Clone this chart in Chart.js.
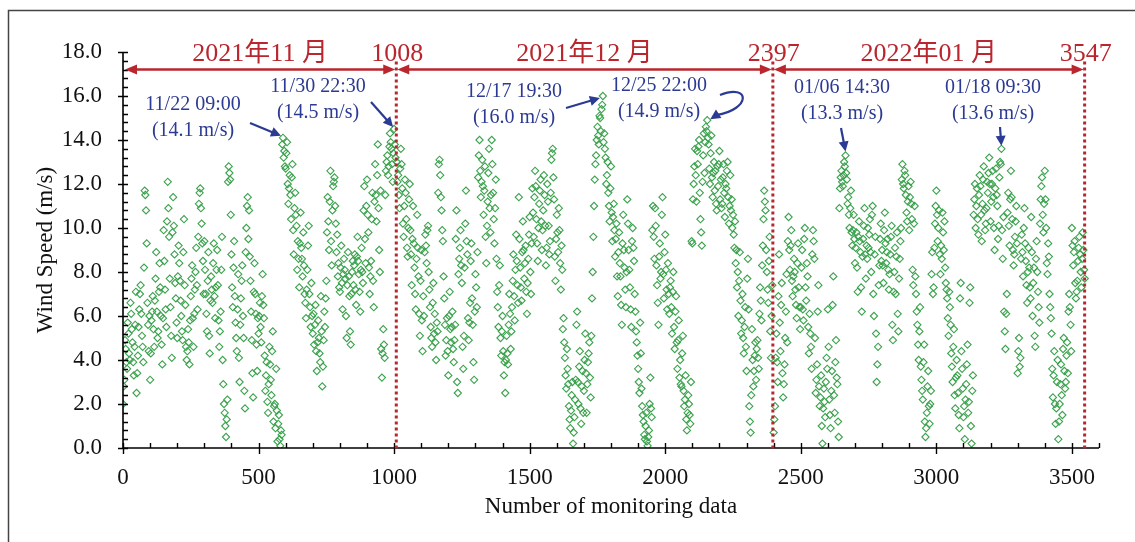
<!DOCTYPE html>
<html>
<head>
<meta charset="utf-8">
<script src="https://cdn.jsdelivr.net/npm/chart.js@4/dist/chart.umd.min.js"></script>
<style>
  html, body { margin: 0; padding: 0; background: #fff; }
  #wrap { position: relative; width: 1135px; height: 542px; }
</style>
</head>
<body>
<div id="wrap"><canvas id="windChart"></canvas></div>
<script>
// wind speed (m/s), one value every 2.5 monitoring records
const recordStep = 2.5;
const novStart = 0, decStart = 1010, janStart = 2400;

const novSpeed = [
  2.0, 2.8, 3.1, 4.9, 4.5, 3.9, 3.6, 5.7, 5.2, 4.3, 4.0, 6.6, 6.1, 5.4, 4.8, 3.9, 3.3, 4.6, 5.6, 7.1,
  2.5, 3.4, 4.2, 5.5, 6.3, 7.0, 7.4, 6.1, 5.1, 4.6, 3.9, 8.2, 11.7, 11.5, 10.8, 9.3, 6.6, 5.6, 4.4, 6.0,
  3.1, 4.3, 5.8, 6.2, 6.9, 5.4, 4.6, 6.7, 7.7, 8.9, 6.2, 5.0, 5.3, 7.1, 8.4, 7.3, 6.0, 4.7, 3.8, 5.9,
  9.9, 8.5, 7.2, 6.3, 5.5, 10.3, 12.1, 10.9, 9.6, 7.7, 6.4, 5.1, 4.1, 9.8, 11.4, 10.1, 8.8, 7.5, 6.8, 5.7,
  5.0, 7.8, 9.2, 8.4, 7.6, 6.7, 6.0, 5.3, 4.9, 8.9, 10.4, 7.4, 6.5, 4.6, 4.0, 4.4, 5.4, 4.8, 3.8, 5.8,
  6.9, 7.7, 8.3, 5.9, 4.6, 6.1, 7.2, 8.0, 9.1, 7.4, 6.3, 9.6, 11.1, 11.6, 11.8, 10.9, 10.2, 9.3, 8.5, 7.0,
  9.4, 8.1, 7.0, 6.1, 5.3, 7.6, 8.9, 5.1, 4.3, 6.7, 7.8, 7.2, 6.6, 8.4, 9.3, 6.9, 5.9, 7.3, 8.1, 9.0,
  7.4, 5.8, 4.6, 5.3, 6.2, 8.1, 9.6, 4.0, 2.9, 2.0, 1.6, 1.0, 0.5, 1.3, 2.2, 12.1, 12.8, 12.5, 12.2, 10.6,
  8.8, 7.3, 6.4, 8.2, 9.4, 6.9, 5.7, 5.0, 4.4, 6.3, 7.9, 4.1, 3.0, 5.6, 6.8, 7.6, 8.3, 6.0, 5.0, 2.6,
  1.8, 8.9, 10.0, 11.0, 11.4, 9.5, 10.8, 8.7, 7.6, 6.2, 4.9, 3.4, 2.3, 7.1, 8.4, 7.0, 6.1, 4.7, 3.5, 5.9,
  5.2, 6.0, 6.6, 5.5, 4.8, 6.9, 7.9, 6.5, 5.9, 4.2, 2.6, 3.3, 3.9, 2.1, 1.6, 2.9, 4.6, 3.8, 3.1, 2.4,
  4.4, 5.3, 1.2, 1.9, 2.0, 0.9, 3.6, 1.7, 0.3, 1.1, 1.5, 0.4, 0.1, 0.8, 0.6, 13.8, 14.1, 13.2, 13.5, 12.8,
  12.7, 13.4, 13.9, 12.0, 11.1, 11.8, 12.4, 11.5, 10.4, 12.3, 12.9, 9.9, 8.8, 10.9, 11.6, 10.6, 10.1, 8.1, 9.4, 8.6,
  7.3, 9.3, 10.7, 9.1, 8.6, 7.8, 9.8, 8.3, 7.0, 6.6, 5.9, 7.2, 8.1, 9.2, 10.1, 7.0, 6.4, 5.5, 7.5, 6.0,
  5.2, 6.1, 4.7, 5.6, 6.5, 4.4, 3.5, 4.8, 5.8, 5.0, 4.3, 3.9, 6.9, 5.3, 2.8, 3.7, 4.9, 6.2, 5.5, 6.8,
  7.6, 9.8, 11.4, 10.3, 9.0, 11.2, 12.6, 9.4, 8.3, 10.8, 11.9, 12.1, 12.3, 11.0, 10.2, 8.9, 9.7, 7.8, 8.4, 7.3,
  7.1, 8.2, 9.2, 7.5, 6.3, 7.9, 8.6, 8.1, 7.7, 6.0, 5.0, 7.4, 8.9, 7.8, 6.9, 5.3, 4.7, 7.0, 8.0, 8.5,
  7.4, 8.3, 8.8, 7.2, 6.5, 8.7, 9.6, 8.5, 7.9, 7.1, 6.2, 8.1, 9.1, 8.0, 7.5, 10.8, 11.9, 9.5, 8.4, 11.0,
  12.2, 10.6, 9.8, 8.2, 7.0, 7.8, 8.5, 10.4, 11.6, 7.6, 6.4, 11.2, 12.9, 11.5, 10.3, 12.4, 13.8, 10.9, 9.0, 8.0,
  11.7, 4.5, 3.2, 4.3, 5.4, 4.7, 4.1, 11.5, 12.6, 13.0, 13.3, 12.4, 12.8, 13.7, 14.3, 13.9, 13.6, 12.9, 12.1, 13.4,
  14.5, 13.8, 13.2
];

const decSpeed = [
  13.0, 12.1, 12.4, 11.5, 10.9, 12.7, 13.6, 12.9, 11.8, 10.2, 9.6, 11.0, 12.2, 11.6, 10.4, 9.1, 8.7, 10.0, 11.3, 12.0,
  9.9, 8.8, 7.4, 9.5, 11.0, 9.3, 8.2, 7.0, 6.3, 8.6, 10.6, 9.1, 7.8, 6.1, 5.1, 7.6, 9.0, 5.8, 4.4, 6.9,
  6.0, 8.9, 9.7, 9.2, 8.4, 9.9, 10.1, 8.0, 7.2, 6.4, 5.5, 5.0, 4.6, 6.6, 7.5, 5.2, 6.1, 4.8, 4.0, 5.7,
  5.3, 11.6, 12.9, 13.1, 12.4, 11.4, 10.8, 9.9, 9.4, 7.8, 6.8, 5.6, 4.2, 4.9, 5.9, 4.4, 3.3, 6.0, 7.1, 5.4,
  4.8, 5.5, 6.2, 4.5, 3.9, 4.9, 5.6, 9.5, 10.8, 3.0, 2.5, 7.9, 8.6, 9.1, 9.9, 8.3, 7.5, 4.6, 3.6, 5.1,
  8.2, 10.2, 11.7, 9.4, 8.8, 5.9, 4.9, 5.7, 6.6, 8.5, 9.3, 6.8, 5.6, 3.9, 3.1, 6.2, 7.9, 7.3, 6.4, 8.9,
  12.3, 13.3, 14.0, 12.6, 11.4, 12.1, 13.1, 11.9, 10.6, 11.7, 12.8, 9.6, 8.4, 10.1, 11.2, 12.5, 13.6, 10.9, 9.8, 11.5,
  14.0, 12.9, 11.6, 10.4, 9.3, 10.9, 12.2, 8.6, 7.1, 6.4, 5.5, 7.4, 8.3, 5.0, 4.2, 5.3, 6.0, 4.4, 3.3, 3.9,
  2.5, 4.0, 5.1, 4.3, 3.8, 5.6, 7.0, 6.1, 4.5, 5.3, 6.4, 7.6, 8.8, 6.9, 5.8, 8.1, 9.7, 8.5, 7.4, 6.6,
  11.4, 9.5, 8.2, 7.3, 6.7, 8.9, 10.3, 9.0, 7.7, 8.4, 9.2, 7.1, 6.1, 7.5, 8.6, 9.7, 10.5, 8.0, 7.0, 9.3,
  11.8, 10.7, 9.6, 11.4, 12.6, 11.9, 10.4, 9.3, 8.5, 10.0, 11.1, 11.7, 12.2, 10.3, 9.0, 9.9, 10.8, 12.4, 11.5, 10.1,
  8.3, 9.1, 12.0, 11.2, 10.1, 8.8, 9.4, 11.6, 13.1, 13.4, 13.6, 12.3, 11.3, 8.7, 7.6, 9.5, 10.6, 9.8, 8.9, 10.9,
  9.9, 8.4, 7.2, 9.2, 8.1, 5.4, 5.9, 4.8, 4.1, 3.3, 2.7, 4.5, 3.6, 2.9, 1.9, 1.3, 0.9, 1.7, 2.4, 3.0,
  0.2, 0.7, 1.4, 2.2, 3.1, 5.6, 6.2, 3.0, 2.0, 3.7, 4.4, 1.8, 1.1, 2.8, 3.5, 1.6, 2.6, 4.0, 5.2, 3.4,
  1.6, 2.9, 3.9, 4.3, 4.8, 3.2, 2.3, 5.1, 6.8, 8.0, 9.6, 11.0, 12.2, 12.9, 13.3, 14.0, 14.6, 14.2, 13.8, 15.1,
  15.0, 14.4, 15.4, 15.6, 16.0, 13.9, 14.3, 13.6, 13.2, 12.0, 12.4, 13.0, 11.6, 11.0, 10.3, 11.8, 12.8, 10.7, 9.4, 10.5,
  11.1, 9.9, 8.7, 9.5, 10.2, 7.8, 6.9, 8.9, 9.8, 8.4, 7.8, 6.5, 5.6, 9.3, 10.6, 9.0, 8.2, 7.2, 6.4, 8.0,
  11.3, 10.2, 9.0, 8.1, 7.3, 6.3, 5.5, 9.4, 10.0, 9.1, 8.5, 7.0, 6.2, 5.3, 4.8, 4.2, 3.6, 3.0, 2.5, 5.7,
  4.3, 2.7, 1.9, 1.5, 1.2, 0.6, 0.4, 1.0, 1.6, 0.3, 0.1, 0.5, 0.8, 2.0, 3.2, 1.8, 1.4, 9.9, 11.0, 9.6,
  8.6, 10.9, 10.1, 8.3, 7.4, 6.6, 5.6, 8.7, 9.3, 7.7, 8.0, 10.6, 11.4, 7.9, 6.8, 8.9, 9.7, 8.1, 7.2, 6.3,
  8.4, 7.0, 6.1, 7.3, 7.6, 6.4, 5.2, 7.1, 8.0, 5.5, 4.5, 6.2, 6.9, 4.8, 3.6, 4.9, 5.8, 3.2, 4.0, 2.9,
  2.8, 4.3, 5.1, 2.6, 1.9, 2.2, 3.3, 1.3, 0.8, 1.6, 2.4, 2.0, 1.5, 1.1, 3.0, 9.4, 9.3, 11.3, 12.0, 12.8,
  13.6, 12.4, 11.2, 13.5, 12.9, 13.7, 14.0, 11.6, 10.4, 9.8, 9.2, 12.1, 13.3, 14.3, 12.5, 13.9, 14.6, 14.4, 14.9, 14.1,
  13.8, 12.7, 12.0, 13.4, 14.2, 12.3, 11.4, 12.5, 13.0, 11.7, 12.6, 11.1, 10.8, 12.8, 11.9, 12.9, 13.5, 11.3, 12.2, 10.9,
  11.1, 12.3, 12.9, 11.6, 10.5, 12.0, 11.8, 12.6, 13.0, 11.4, 10.2, 11.0, 12.4, 10.8, 11.3, 10.0, 10.6, 9.7, 9.1, 10.3,
  8.4, 9.0, 7.3, 8.0, 6.0, 7.6, 8.9, 6.7, 5.2, 5.8, 7.0, 5.0, 4.3, 5.5, 6.4, 4.6, 3.5, 7.7, 8.6, 6.3,
  1.9, 1.2, 0.7, 2.4, 5.4, 4.0, 2.8, 3.5, 4.2, 4.8, 3.1, 4.5, 4.9, 4.1, 3.6, 6.1, 7.3, 6.7, 5.8, 8.3,
  9.2, 10.4, 11.7, 11.2, 10.8, 9.0, 8.0, 7.2, 6.6, 8.5, 9.6, 5.3, 4.1, 6.0, 7.4
];

const janSpeed = [
  0.7, 1.3, 1.9, 4.1, 5.2, 3.9, 3.0, 6.9, 8.8, 5.7, 4.4, 6.5, 7.5, 3.4, 2.3, 2.9, 3.8, 5.0, 6.2, 7.9,
  4.8, 9.4, 10.5, 9.0, 8.1, 9.2, 9.9, 7.6, 6.9, 7.8, 8.6, 8.0, 7.2, 6.5, 5.9, 8.4, 9.3, 7.3, 6.4, 5.4,
  6.4, 8.2, 9.0, 6.3, 5.8, 9.5, 10.0, 7.3, 6.7, 8.4, 7.8, 5.5, 4.3, 6.1, 5.2, 4.6, 3.6, 8.8, 9.9, 9.4,
  8.6, 5.0, 2.5, 3.1, 3.8, 6.2, 7.4, 2.8, 1.9, 2.3, 3.3, 1.0, 0.2, 1.8, 2.7, 2.1, 1.4, 3.0, 4.1, 3.6,
  6.3, 4.6, 2.2, 1.5, 0.9, 2.6, 3.5, 6.5, 7.8, 2.4, 1.6, 3.9, 4.9, 3.2, 2.9, 1.2, 0.5, 10.9, 11.8, 12.3,
  12.6, 12.1, 11.9, 12.4, 13.0, 12.8, 13.3, 12.5, 12.2, 11.1, 11.4, 10.6, 10.0, 10.9, 11.7, 9.8, 9.2, 9.9, 10.6, 9.5,
  8.4, 9.1, 9.8, 8.2, 7.1, 9.6, 10.3, 9.4, 8.9, 7.3, 6.2, 8.7, 9.5, 10.1, 10.9, 8.8, 7.7, 9.2, 8.6, 10.0,
  9.1, 9.7, 10.4, 8.9, 8.0, 10.6, 11.0, 7.0, 6.0, 8.8, 9.6, 5.2, 3.0, 3.8, 4.6, 7.4, 8.3, 9.5, 10.2, 8.5,
  9.0, 8.3, 7.5, 9.9, 10.7, 9.3, 8.4, 8.9, 9.5, 8.1, 7.2, 7.9, 8.8, 9.6, 10.1, 5.6, 4.9, 7.1, 8.0, 9.1,
  7.0, 8.7, 9.8, 6.1, 5.3, 7.7, 8.6, 9.4, 10.0, 12.2, 12.9, 12.0, 11.8, 12.6, 12.4, 11.5, 10.7, 10.3, 11.2, 11.9,
  9.9, 11.4, 12.1, 11.1, 10.4, 8.1, 7.4, 10.2, 11.0, 7.8, 7.0, 6.2, 5.6, 4.7, 4.0, 5.3, 6.4, 3.7, 3.1, 2.6,
  2.2, 3.9, 4.7, 1.2, 0.5, 0.9, 1.6, 2.8, 3.5, 1.9, 1.1, 2.0, 2.6, 7.9, 8.9, 7.0, 7.3, 9.1, 10.2, 11.0,
  11.7, 10.6, 9.4, 10.0, 10.8, 8.8, 7.9, 9.2, 8.6, 10.7, 9.8, 9.0, 10.3, 8.2, 7.5, 7.2, 6.8, 5.9, 5.1, 7.1,
  6.4, 5.6, 4.3, 3.7, 3.0, 4.6, 5.4, 2.4, 1.8, 3.2, 4.0, 3.3, 2.5, 1.5, 0.9, 6.8, 7.5, 4.4, 3.6, 2.7,
  1.4, 1.9, 0.4, 2.2, 2.9, 3.8, 4.7, 1.6, 2.1, 6.6, 7.3, 1.0, 0.2, 2.6, 3.3, 10.6, 11.3, 12.0, 10.0, 11.0,
  11.8, 10.4, 9.7, 11.5, 12.4, 11.9, 10.6, 9.4, 11.1, 12.2, 12.8, 10.8, 9.9, 10.2, 10.9, 12.1, 11.6, 12.5, 13.2, 12.0,
  10.3, 11.2, 12.0, 12.6, 11.4, 10.0, 9.0, 11.8, 12.7, 11.5, 11.0, 9.5, 10.1, 12.3, 13.0, 12.9, 13.6, 9.9, 8.6, 10.5,
  6.2, 5.3, 4.5, 6.1, 7.0, 10.7, 11.6, 10.1, 9.2, 11.3, 12.6, 11.4, 10.4, 9.0, 8.3, 8.8, 9.6, 10.3, 11.0, 9.3,
  3.4, 4.4, 5.0, 3.7, 4.1, 8.6, 9.7, 8.9, 7.8, 10.0, 10.9, 9.3, 8.5, 7.4, 6.6, 8.0, 9.1, 8.2, 7.3, 6.8,
  10.5, 8.9, 6.0, 7.5, 8.2, 5.1, 4.6, 8.6, 9.4, 8.0, 7.1, 6.4, 5.7, 10.2, 11.3, 11.9, 12.3, 10.6, 9.8, 11.1,
  12.6, 11.3, 10.0, 8.4, 7.9, 9.3, 8.7, 7.0, 6.4, 5.9, 5.2, 3.6, 2.3, 3.3, 4.4, 2.0, 1.1, 1.8, 3.0, 4.0,
  0.4, 1.2, 2.0, 2.9, 3.8, 2.4, 1.5, 4.5, 5.0, 3.5, 2.7, 3.0, 4.2, 4.8, 3.4, 6.2, 7.0, 6.4, 5.6, 4.4,
  10.0, 9.2, 8.3, 8.9, 9.4, 7.5, 6.8, 7.1, 7.6, 8.5, 9.1, 9.6, 8.8, 8.0, 7.3, 8.6, 9.8, 9.0, 8.1, 7.7
];

// month boundaries (record number) and labels
const monthEnds = [1008, 2397, 3547];
const monthLabels = ["2021年11 月", "2021年12 月", "2022年01 月"];

// peak annotations
const peakTimes = ["11/22 09:00", "11/30 22:30", "12/17 19:30", "12/25 22:00", "01/06 14:30", "01/18 09:30"];
const peakSpeeds = [14.1, 14.5, 16.0, 14.9, 13.3, 13.6];
const peakRecords = [590, 1000, 1770, 2155, 2665, 3240];

const RED = "#b9262e";
const BLUE = "#2b3a92";
const GREEN = "#3ca24e";
const SERIF = '"Liberation Serif", "Times New Roman", serif';

const points = [];
[[novStart, novSpeed], [decStart, decSpeed], [janStart, janSpeed]].forEach(([start, arr]) => {
  arr.forEach((v, i) => points.push({ x: start + i * recordStep, y: v }));
});

function arrowHead(ctx, x1, y1, x2, y2, len, half) {
  const a = Math.atan2(y2 - y1, x2 - x1);
  ctx.beginPath();
  ctx.moveTo(x2, y2);
  ctx.lineTo(x2 - len * Math.cos(a) + half * Math.sin(a), y2 - len * Math.sin(a) - half * Math.cos(a));
  ctx.lineTo(x2 - len * Math.cos(a) - half * Math.sin(a), y2 - len * Math.sin(a) + half * Math.cos(a));
  ctx.closePath();
  ctx.fill();
}

// text placement for the peak labels (pixel layout) and arrow tails
const notePos = [
  { cx: 193, y1: 105, y2: 131, tail: [250, 123], dx: -2, dy: -2 },
  { cx: 318, y1: 87, y2: 113, tail: [371, 102], dx: -1, dy: -2 },
  { cx: 514, y1: 92, y2: 118, tail: [566, 108], dx: -3, dy: 2 },
  { cx: 659, y1: 86, y2: 112, tail: [720, 95], dx: 3, dy: -1, curve: true },
  { cx: 842, y1: 88, y2: 114, tail: [841, 128], dx: 0, dy: -4 },
  { cx: 993, y1: 88, y2: 114, tail: [1000, 127], dx: 0, dy: -3 }
];

const overlay = {
  id: "overlay",
  afterDraw(chart) {
    const { ctx, scales: { x, y } } = chart;
    const x0 = x.getPixelForValue(0), xEnd = x.getPixelForValue(3600);
    const yb = y.getPixelForValue(0), yt = y.getPixelForValue(18);
    ctx.save();

    // outer frame
    ctx.strokeStyle = "#444";
    ctx.lineWidth = 1.5;
    ctx.beginPath();
    ctx.moveTo(8.5, 545); ctx.lineTo(8.5, 10.5); ctx.lineTo(1140, 10.5);
    ctx.stroke();

    // axes
    ctx.strokeStyle = "#000";
    ctx.lineWidth = 1.6;
    ctx.beginPath();
    ctx.moveTo(x0, yt); ctx.lineTo(x0, yb); ctx.lineTo(xEnd, yb);
    ctx.stroke();
    ctx.lineWidth = 1.4;
    ctx.beginPath();
    for (let k = 0; k <= 45; k++) {
      const py = Math.round(y.getPixelForValue(k * 0.4)) + 0.5;
      const major = k % 5 === 0;
      ctx.moveTo(major ? x0 - 5 : x0, py); ctx.lineTo(x0 + 5, py);
    }
    for (let k = 0; k <= 36; k++) {
      const px = Math.round(x.getPixelForValue(k * 100)) + 0.5;
      const major = k % 5 === 0;
      ctx.moveTo(px, yb - 5); ctx.lineTo(px, major ? yb + 6 : yb);
    }
    ctx.stroke();

    // axis titles
    ctx.fillStyle = "#111";
    ctx.font = "23px " + SERIF;
    ctx.textAlign = "center";
    ctx.textBaseline = "middle";
    ctx.fillText("Number of monitoring data", (x0 + xEnd) / 2, 507);
    ctx.save();
    ctx.translate(46, (yt + yb) / 2);
    ctx.rotate(-Math.PI / 2);
    ctx.fillText("Wind Speed (m/s)", 0, 0);
    ctx.restore();

    // month dividers, arrows and labels
    const arrowY = y.getPixelForValue(17.2);
    ctx.strokeStyle = RED;
    ctx.fillStyle = RED;
    ctx.lineWidth = 3;
    ctx.setLineDash([3, 3]);
    monthEnds.forEach(m => {
      const px = x.getPixelForValue(m);
      ctx.beginPath();
      ctx.moveTo(px, arrowY - 8); ctx.lineTo(px, yb + 2);
      ctx.stroke();
    });
    ctx.setLineDash([]);
    ctx.lineWidth = 2.5;
    let prev = x0 + 2;
    monthEnds.forEach((m, i) => {
      const px = x.getPixelForValue(m) - 1;
      ctx.beginPath();
      ctx.moveTo(prev + 8, arrowY); ctx.lineTo(px - 8, arrowY);
      ctx.stroke();
      arrowHead(ctx, px, arrowY, prev, arrowY, 12, 5);
      arrowHead(ctx, prev, arrowY, px, arrowY, 12, 5);
      ctx.font = "26px " + SERIF + ', "Noto Sans CJK SC"';
      ctx.fillText(monthLabels[i], (prev + px) / 2, arrowY - 15);
      ctx.font = "26px " + SERIF;
      ctx.fillText(String(m), px + 2, arrowY - 15);
      prev = px + 2;
    });

    // peak annotations
    ctx.fillStyle = BLUE;
    ctx.strokeStyle = BLUE;
    ctx.lineWidth = 2.2;
    ctx.font = "20px " + SERIF;
    peakTimes.forEach((t, i) => {
      const n = notePos[i];
      ctx.fillText(t, n.cx, n.y1);
      ctx.fillText("(" + peakSpeeds[i].toFixed(1) + " m/s)", n.cx, n.y2);
      const tx = x.getPixelForValue(peakRecords[i]) + n.dx;
      const ty = y.getPixelForValue(peakSpeeds[i]) + n.dy;
      const [sx, sy] = n.tail;
      ctx.beginPath();
      if (n.curve) {
        ctx.moveTo(sx, sy);
        ctx.bezierCurveTo(sx + 30, sy - 12, sx + 32, sy + 14, tx + 6, ty - 4);
        ctx.stroke();
        arrowHead(ctx, tx + 14, ty - 9, tx, ty, 10, 5);
      } else {
        const a = Math.atan2(ty - sy, tx - sx);
        ctx.moveTo(sx, sy);
        ctx.lineTo(tx - 8 * Math.cos(a), ty - 8 * Math.sin(a));
        ctx.stroke();
        arrowHead(ctx, sx, sy, tx, ty, 10, 5);
      }
    });
    ctx.restore();
  }
};

new Chart(document.getElementById("windChart"), {
  type: "scatter",
  data: {
    datasets: [{
      label: "Wind speed",
      data: points,
      pointStyle: "rectRot",
      pointRadius: 3.6,
      pointBorderWidth: 1.1,
      borderColor: GREEN,
      backgroundColor: "rgba(0,0,0,0)"
    }]
  },
  options: {
    responsive: true,
    maintainAspectRatio: false,
    animation: false,
    layout: { padding: { top: 52, right: 36, bottom: 0, left: 0 } },
    plugins: { legend: { display: false }, tooltip: { enabled: false } },
    scales: {
      x: {
        type: "linear",
        min: 0,
        max: 3600,
        afterFit: s => { s.height = 94; },
        afterBuildTicks: s => {
          s.ticks = [0, 500, 1000, 1500, 2000, 2500, 3000, 3500].map(v => ({ value: v }));
        },
        grid: { display: false },
        border: { display: false },
        ticks: {
          autoSkip: false,
          maxRotation: 0,
          minRotation: 0,
          padding: 8,
          color: "#111",
          font: { family: SERIF, size: 23 },
          callback: v => String(v)
        }
      },
      y: {
        min: 0,
        max: 18,
        afterFit: s => { s.width = 123; },
        grid: { display: false },
        border: { display: false },
        ticks: {
          stepSize: 2,
          padding: 13,
          color: "#111",
          font: { family: SERIF, size: 23 },
          callback: v => v.toFixed(1)
        }
      }
    }
  },
  plugins: [overlay]
});
</script>
</body>
</html>
